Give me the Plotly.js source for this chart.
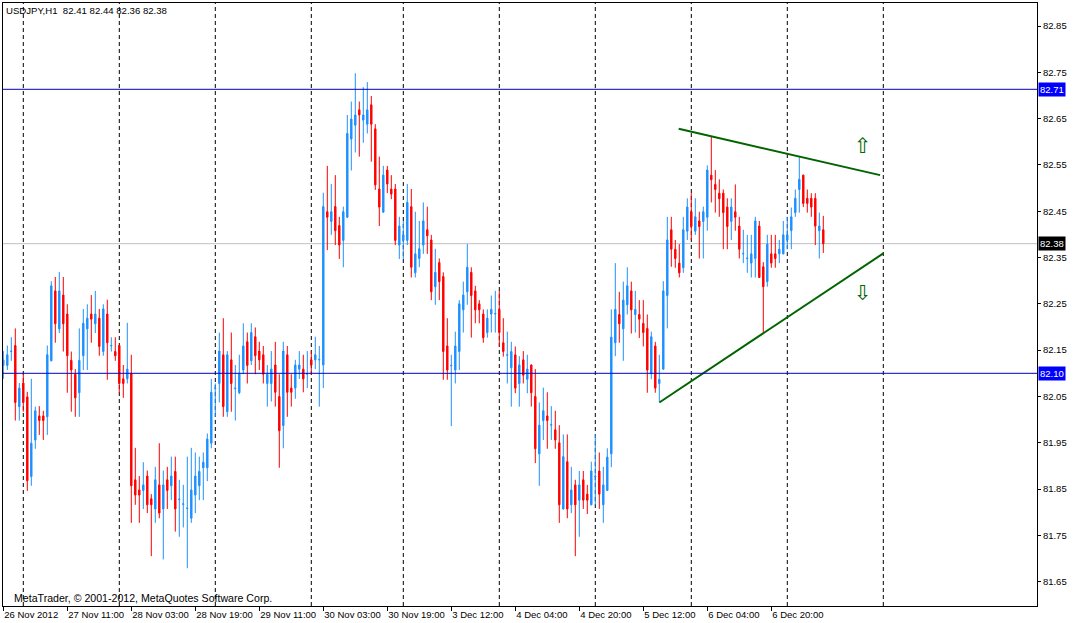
<!DOCTYPE html>
<html><head><meta charset="utf-8">
<script src="https://cdn.plot.ly/plotly-3.0.1.min.js"></script>
<style>html,body{margin:0;padding:0;background:#fff}#chart{width:1075px;height:623px}</style>
</head><body><div id="chart"></div>
<script>
// USDJPY H1 bars, oldest first (bar 0 = 26 Nov 2012 19:00)
const openP = [
82.117,82.117,82.147,82.160,82.028,82.079,82.049,81.877,81.956,82.008,
82.008,82.006,82.127,82.278,82.196,82.269,82.228,82.128,82.098,82.058,
82.138,82.196,82.228,82.207,82.219,82.147,82.228,82.159,82.147,82.160,
82.088,82.088,82.100,81.870,81.848,81.847,81.878,81.829,81.807,81.859,
81.807,81.870,81.857,81.888,81.827,81.817,81.808,81.787,81.837,81.857,
81.896,81.896,81.949,82.067,82.078,82.140,82.017,82.129,82.067,82.058,
82.107,82.168,82.127,82.179,82.148,82.140,82.078,82.078,82.118,82.050,
81.987,82.140,82.068,82.068,82.109,82.109,82.098,82.129,82.129,82.129,
82.118,82.449,82.428,82.460,82.419,82.387,82.437,82.606,82.636,82.669,
82.647,82.638,82.680,82.628,82.498,82.448,82.539,82.498,82.498,82.377,
82.387,82.387,82.460,82.317,82.348,82.377,82.410,82.388,82.287,82.339,
82.309,82.159,82.116,82.107,82.147,82.237,82.276,82.318,82.278,82.250,
82.228,82.188,82.228,82.228,82.238,82.166,82.139,82.112,82.140,82.078,
82.129,82.087,82.118,82.050,81.926,81.998,82.008,81.988,81.978,81.950,
81.807,81.909,81.816,81.859,81.826,81.870,81.839,81.816,81.877,81.889,
81.816,81.847,81.926,82.166,82.227,82.196,82.248,82.278,82.227,82.227,
82.208,82.197,82.099,82.159,82.078,82.109,82.268,82.410,82.368,82.338,
82.328,82.407,82.449,82.407,82.429,82.428,82.437,82.528,82.508,82.489,
82.489,82.459,82.428,82.449,82.418,82.358,82.348,82.338,82.348,82.418,
82.330,82.298,82.358,82.358,82.358,82.358,82.388,82.408,82.447,82.497,
82.528,82.478,82.478,82.478,82.408,82.410];
const highP = [
82.148,82.160,82.178,82.197,82.079,82.101,82.060,82.088,82.028,82.029,
82.019,82.160,82.299,82.308,82.319,82.308,82.249,82.147,82.109,82.197,
82.239,82.249,82.269,82.278,82.239,82.249,82.259,82.178,82.178,82.161,
82.118,82.209,82.140,81.939,81.878,81.908,81.890,81.839,81.898,81.949,
81.890,81.898,81.920,81.920,81.870,81.859,81.920,81.939,81.929,81.920,
81.929,81.970,82.088,82.078,82.188,82.219,82.148,82.188,82.118,82.140,
82.208,82.188,82.208,82.199,82.168,82.159,82.118,82.148,82.168,82.098,
82.168,82.159,82.098,82.129,82.148,82.140,82.148,82.148,82.179,82.159,
82.490,82.548,82.509,82.528,82.438,82.460,82.658,82.687,82.748,82.687,
82.718,82.729,82.699,82.638,82.568,82.548,82.548,82.528,82.509,82.438,
82.429,82.509,82.498,82.449,82.429,82.469,82.460,82.399,82.369,82.348,
82.318,82.219,82.140,82.190,82.258,82.298,82.379,82.329,82.289,82.258,
82.238,82.238,82.268,82.278,82.278,82.219,82.190,82.168,82.158,82.137,
82.148,82.140,82.119,82.109,82.037,82.069,82.059,82.029,82.019,81.988,
81.968,81.968,81.898,81.870,81.889,81.889,81.859,81.909,81.968,81.929,
81.898,81.938,82.238,82.338,82.276,82.298,82.329,82.298,82.278,82.258,
82.258,82.227,82.190,82.168,82.140,82.299,82.438,82.438,82.388,82.379,
82.438,82.478,82.489,82.478,82.449,82.460,82.549,82.611,82.539,82.519,
82.497,82.478,82.478,82.508,82.438,82.410,82.399,82.399,82.438,82.429,
82.340,82.399,82.399,82.399,82.388,82.429,82.438,82.458,82.497,82.569,
82.529,82.497,82.489,82.489,82.447,82.440];
const lowP = [
82.088,82.107,82.127,81.998,81.998,82.017,81.846,81.857,81.937,81.967,
81.956,81.967,82.126,82.166,82.187,82.147,82.058,82.017,82.006,82.006,
82.107,82.107,82.166,82.187,82.138,82.138,82.086,82.147,82.127,82.058,
82.047,82.078,81.777,81.816,81.777,81.807,81.798,81.705,81.777,81.787,
81.698,81.807,81.826,81.758,81.747,81.767,81.679,81.777,81.798,81.826,
81.826,81.867,81.938,82.006,82.037,82.006,82.006,82.017,81.998,82.055,
82.098,82.078,82.118,82.098,82.107,82.078,82.028,82.039,82.028,81.896,
81.938,82.006,82.028,82.045,82.088,82.059,82.068,82.098,82.109,82.028,
82.068,82.366,82.399,82.377,82.347,82.329,82.436,82.538,82.577,82.568,
82.598,82.618,82.557,82.496,82.418,82.447,82.489,82.476,82.377,82.347,
82.347,82.377,82.307,82.307,82.329,82.358,82.358,82.258,82.248,82.258,
82.086,82.086,81.986,82.078,82.107,82.188,82.248,82.177,82.208,82.208,
82.166,82.177,82.188,82.188,82.158,82.136,82.078,82.028,82.057,82.028,
82.078,82.057,82.028,81.906,81.857,81.956,81.937,81.956,81.937,81.777,
81.806,81.787,81.798,81.705,81.747,81.807,81.796,81.815,81.816,81.807,
81.777,81.846,81.897,82.137,82.166,82.127,82.227,82.186,82.188,82.176,
82.158,82.058,82.087,82.058,82.039,82.108,82.197,82.330,82.328,82.307,
82.317,82.388,82.388,82.399,82.348,82.348,82.408,82.469,82.447,82.438,
82.368,82.368,82.388,82.408,82.348,82.338,82.317,82.307,82.307,82.306,
82.188,82.287,82.328,82.328,82.338,82.357,82.368,82.368,82.438,82.447,
82.459,82.447,82.438,82.377,82.348,82.360];
const closeP = [
82.129,82.140,82.148,82.037,82.068,82.037,81.868,81.949,82.019,81.998,
81.998,82.140,82.289,82.207,82.278,82.207,82.138,82.107,82.047,82.128,
82.208,82.219,82.217,82.228,82.158,82.239,82.166,82.160,82.138,82.078,
82.078,82.109,81.857,81.837,81.837,81.859,81.816,81.816,81.870,81.798,
81.859,81.847,81.878,81.807,81.828,81.818,81.809,81.848,81.878,81.888,
81.908,81.958,82.059,82.068,82.148,82.028,82.140,82.078,82.068,82.100,
82.159,82.117,82.188,82.138,82.129,82.098,82.098,82.109,82.059,81.976,
82.148,82.059,82.059,82.118,82.118,82.088,82.099,82.118,82.140,82.130,
82.460,82.437,82.449,82.408,82.377,82.449,82.618,82.649,82.658,82.658,
82.658,82.669,82.638,82.507,82.459,82.528,82.509,82.487,82.387,82.418,
82.399,82.469,82.329,82.358,82.369,82.429,82.397,82.276,82.318,82.298,
82.147,82.107,82.117,82.159,82.250,82.269,82.329,82.268,82.237,82.237,
82.177,82.219,82.238,82.229,82.188,82.147,82.140,82.147,82.068,82.118,
82.096,82.109,82.058,81.937,81.988,82.019,81.998,81.989,81.956,81.816,
81.920,81.807,81.848,81.816,81.859,81.826,81.826,81.889,81.878,81.839,
81.859,81.919,82.178,82.238,82.207,82.258,82.289,82.237,82.238,82.217,
82.188,82.107,82.179,82.068,82.087,82.278,82.388,82.368,82.348,82.317,
82.410,82.459,82.417,82.438,82.417,82.449,82.539,82.518,82.497,82.477,
82.447,82.417,82.459,82.437,82.368,82.359,82.349,82.358,82.429,82.307,
82.287,82.379,82.338,82.348,82.368,82.399,82.399,82.438,82.478,82.519,
82.467,82.467,82.459,82.418,82.418,82.380];

const tickBars   = [0,16,32,48,64,80,96,112,128,144,160,176,192];
const tickLabels = ["26 Nov 2012","27 Nov 11:00","28 Nov 03:00","28 Nov 19:00","29 Nov 11:00",
                    "30 Nov 03:00","30 Nov 19:00","3 Dec 12:00","4 Dec 04:00","4 Dec 20:00",
                    "5 Dec 12:00","6 Dec 04:00","6 Dec 20:00"];
const priceTicks = [81.65,81.75,81.85,81.95,82.05,82.15,82.25,82.35,82.45,82.55,82.65,82.75,82.85];
const daySeparators = [5,29,53,77,100,124,148,172,196,220];
const hLinePrices = [82.7134, 82.10];
const hLineLabels = ["82.71","82.10"];
const bidPrice = 82.38;
const bidLabel = "82.38";
const upperTrendX = [168.85, 219.2], upperTrendY = [82.628, 82.528];
const lowerTrendX = [164.0, 220.0],  lowerTrendY = [82.037, 82.359];
const arrowUpPos = [215.0, 82.591], arrowDownPos = [215.0, 82.2745];
const titleText = "USDJPY,H1  82.41 82.44 82.36 82.38";
const copyrightText = "MetaTrader, © 2001-2012, MetaQuotes Software Corp.";

const barIdx = openP.map((_, i) => i);
const FONT = "Liberation Sans, Arial, sans-serif";

const traces = [
  {
    type: "candlestick", x: barIdx, open: openP, high: highP, low: lowP, close: closeP,
    increasing: {line: {color: "#1E90FF", width: 1}, fillcolor: "#1E90FF"},
    decreasing: {line: {color: "#FF0000", width: 1}, fillcolor: "#FF0000"},
    whiskerwidth: 0, hoverinfo: "skip", showlegend: false
  },
  {type: "scatter", mode: "lines", x: upperTrendX, y: upperTrendY,
   line: {color: "#006400", width: 2}, hoverinfo: "skip", showlegend: false},
  {type: "scatter", mode: "lines", x: lowerTrendX, y: lowerTrendY,
   line: {color: "#006400", width: 2}, hoverinfo: "skip", showlegend: false}
];

const shapes = [];
daySeparators.forEach(b => shapes.push({type: "line", xref: "x", yref: "paper", x0: b, x1: b, y0: 0, y1: 1,
  line: {color: "#000000", width: 1, dash: "4px,3px"}, layer: "below"}));
shapes.push({type: "line", xref: "paper", yref: "y", x0: 0, x1: 1, y0: bidPrice, y1: bidPrice,
  line: {color: "#C0C0C0", width: 1}, layer: "below"});
hLinePrices.forEach(p => shapes.push({type: "line", xref: "paper", yref: "y", x0: 0, x1: 1, y0: p, y1: p,
  line: {color: "#0000C8", width: 1}, layer: "above"}));

const annotations = [
  {xref: "paper", yref: "paper", x: 0, y: 1, xanchor: "left", yanchor: "top", xshift: 1, yshift: 0,
   text: titleText, showarrow: false, font: {family: FONT, size: 9.6, color: "#000"}},
  {xref: "paper", yref: "paper", x: 0, y: 0, xanchor: "left", yanchor: "bottom", xshift: 9, yshift: 0,
   text: copyrightText, showarrow: false, font: {family: FONT, size: 10.6, color: "#000"}},
  {xref: "x", yref: "y", x: arrowUpPos[0], y: arrowUpPos[1], text: "⇧", showarrow: false,
   font: {family: "DejaVu Sans", size: 21, color: "#006400"}},
  {xref: "x", yref: "y", x: arrowDownPos[0], y: arrowDownPos[1], text: "⇩", showarrow: false,
   font: {family: "DejaVu Sans", size: 21, color: "#006400"}},
  {xref: "paper", yref: "y", x: 1, y: bidPrice, xanchor: "left", yanchor: "middle", xshift: 1,
   text: bidLabel, showarrow: false, bgcolor: "#000000", borderpad: 1,
   font: {family: FONT, size: 9.5, color: "#FFFFFF"}}
];
hLinePrices.forEach((p, k) => annotations.push({xref: "paper", yref: "y", x: 1, y: p, xanchor: "left",
  yanchor: "middle", xshift: 1, text: hLineLabels[k], showarrow: false, bgcolor: "#0000FF", borderpad: 1,
  font: {family: FONT, size: 9.5, color: "#FFFFFF"}}));

const layout = {
  width: 1075, height: 623,
  margin: {l: 3, r: 38, t: 3, b: 17, autoexpand: false},
  paper_bgcolor: "#FFFFFF", plot_bgcolor: "#FFFFFF",
  boxgap: 0.5,
  showlegend: false,
  font: {family: FONT, size: 9.5, color: "#000"},
  xaxis: {
    range: [-0.075, 258.425], fixedrange: true,
    rangeslider: {visible: false},
    tickmode: "array", tickvals: tickBars, ticktext: tickLabels,
    tickangle: 0, automargin: false,
    ticks: "outside", ticklen: 4, tickcolor: "#000", tickwidth: 1,
    ticklabelposition: "outside right", ticklabelstandoff: 0,
    tickfont: {family: FONT, size: 9.5, color: "#000"},
    showgrid: false, zeroline: false,
    showline: true, linecolor: "#000", linewidth: 1, mirror: true
  },
  yaxis: {
    side: "right", range: [81.5974, 82.8998], fixedrange: true,
    tickmode: "array", tickvals: priceTicks, ticktext: priceTicks.map(v => v.toFixed(2)),
    ticks: "outside", ticklen: 3, tickcolor: "#000", tickwidth: 1,
    tickfont: {family: FONT, size: 9.5, color: "#000"},
    showgrid: false, zeroline: false,
    showline: true, linecolor: "#000", linewidth: 1, mirror: true
  },
  shapes: shapes,
  annotations: annotations
};

Plotly.newPlot("chart", traces, layout, {displayModeBar: false, staticPlot: true});
</script>
</body></html>
